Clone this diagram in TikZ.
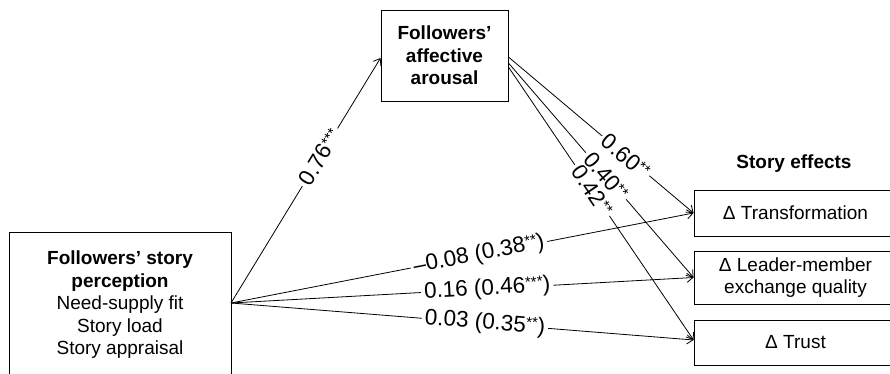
\documentclass[tikz,border=0pt]{standalone}
\usepackage{fontspec}
\setmainfont{Liberation Sans}
\usetikzlibrary{arrows.meta,calc}
\tikzset{
  boxtext/.style={font=\fontsize{19}{22.5}\selectfont, align=center},
  box/.style={draw, line width=0.9pt, boxtext, inner sep=0pt},
  conn/.style={line width=0.8pt, -{Straight Barb[length=6pt,width=9pt,line width=0.8pt]}},
  lbl/.style={sloped, fill=white, inner xsep=3pt, inner ysep=1.5pt, font=\fontsize{22.5}{26}\selectfont}
}
\newcommand{\st}[1]{\raisebox{5pt}{\fontsize{15}{15}\selectfont #1}}
\begin{document}
\begin{tikzpicture}[x=1pt,y=-1pt]
\useasboundingbox (0,0) rectangle (890,374);
% boxes
\node[box, minimum width=222pt, minimum height=146pt] (perc) at (120,305)
  {\textbf{Followers’ story}\\\textbf{perception}\\Need-supply fit\\Story load\\Story appraisal};
\node[box, minimum width=127pt, minimum height=91pt] (med) at (444.5,55.5)
  {\textbf{Followers’}\\\textbf{affective}\\\textbf{arousal}};
\node[box, minimum width=203pt, minimum height=46pt] (trans) at (795.5,213) {Δ Transformation};
\node[box, minimum width=203pt, minimum height=53pt] (lmx) at (795.5,277.5) {Δ Leader-member\\exchange quality};
\node[box, minimum width=203pt, minimum height=45pt] (trust) at (795.5,342.5) {Δ Trust};
\node[boxtext, font=\fontsize{19}{22}\selectfont\bfseries] (eff) at (794,164) {Story effects};
\coordinate (src) at (231,303);
% direct effects
\draw[conn] (src) -- node[lbl, pos=0.536] {–0.08 (0.38\st{**})} (trans.west);
\draw[conn] (src) -- node[lbl, pos=0.554] {0.16 (0.46\st{***})} (lmx.west);
\draw[conn] (src) -- node[lbl, pos=0.549] {0.03 (0.35\st{**})} ([yshift=2.5pt]trust.west);
% a path
\draw[conn] (src) -- node[lbl, pos=0.595] {0.76\st{***}} ([yshift=-2.5pt]med.west);
% b paths
\draw[conn] ([yshift=-11.5pt]med.east) -- node[lbl, pos=0.452] {0.42\st{**}} ([yshift=2.5pt]trust.west);
\draw[conn] ([yshift=-7.5pt]med.east) -- node[lbl, pos=0.527] {0.40\st{**}} (lmx.west);
\draw[conn] ([yshift=-1.5pt]med.east) -- node[lbl, pos=0.634] {0.60\st{**}} (trans.west);
\end{tikzpicture}
\end{document}
